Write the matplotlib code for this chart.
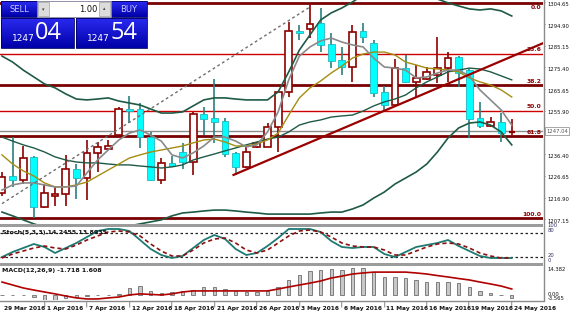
import matplotlib
matplotlib.use("Agg")
import matplotlib.pyplot as plt
from matplotlib.patches import Rectangle
from matplotlib.lines import Line2D
from matplotlib.colors import LinearSegmentedColormap
import numpy as np

# ---------------- data ----------------
opens  = [1219.3,1226.9,1225.1,1235.5,1213.0,1217.9,1218.8,1230.1,1226.0,1237.3,1239.0,1245.3,1257.0,1257.0,1244.4,1225.1,1232.8,1237.7,1233.2,1254.8,
          1253.0,1251.6,1237.3,1231.0,1240.0,1240.0,1248.9,1264.7,1292.1,1293.0,1295.7,1286.2,1279.0,1275.9,1292.1,1286.7,1264.7,1258.8,1275.4,1269.2,
          1270.5,1272.3,1275.4,1280.4,1274.5,1253.0,1249.4,1251.2,1246.7]
highs  = [1228.7,1244.4,1240.4,1235.9,1223.3,1222.0,1236.4,1232.3,1243.1,1242.2,1243.1,1257.9,1262.9,1259.7,1246.7,1235.0,1235.9,1241.8,1255.7,1257.9,
          1270.5,1253.0,1237.7,1240.0,1242.2,1250.7,1264.7,1296.1,1294.8,1304.2,1302.4,1291.2,1284.9,1294.8,1295.7,1288.0,1267.4,1279.5,1281.3,1276.8,
          1275.9,1289.4,1282.6,1280.8,1275.0,1260.2,1253.4,1255.2,1252.5]
lows   = [1217.9,1222.0,1223.3,1208.0,1212.5,1213.4,1213.4,1216.6,1216.1,1228.7,1238.6,1244.4,1250.7,1239.5,1224.5,1223.3,1231.0,1230.1,1227.4,1245.3,
          1241.8,1235.5,1227.4,1230.5,1239.5,1240.0,1237.7,1262.4,1288.0,1288.9,1282.6,1275.4,1272.3,1269.2,1286.7,1262.4,1256.6,1258.4,1268.7,1262.4,
          1270.1,1268.7,1269.2,1266.9,1244.0,1248.5,1248.9,1242.2,1245.3]
closes = [1226.5,1225.1,1235.0,1213.0,1219.3,1218.8,1230.1,1226.0,1237.3,1240.0,1240.4,1257.0,1256.1,1244.4,1225.1,1232.8,1231.4,1233.2,1254.8,1252.5,
          1251.2,1236.8,1231.0,1237.7,1241.8,1248.9,1264.7,1292.1,1291.2,1295.2,1285.8,1278.6,1275.9,1291.6,1289.4,1264.2,1258.8,1275.4,1269.2,1271.0,
          1273.7,1275.4,1279.9,1273.2,1252.5,1249.4,1251.2,1246.2,1247.0]

bb_upper = [1280.8,1278.1,1274.5,1271.4,1268.3,1266.5,1263.8,1261.5,1261.1,1261.5,1262.0,1260.6,1259.7,1258.8,1257.0,1255.2,1255.2,1255.7,1258.4,1261.1,
            1262.0,1262.0,1261.5,1261.1,1261.1,1261.1,1264.7,1273.7,1283.5,1290.3,1297.0,1300.2,1302.4,1305.1,1308.2,1310.5,1312.3,1312.7,1311.8,1310.0,
            1308.7,1306.4,1304.7,1303.3,1302.0,1301.5,1302.0,1301.1,1298.8]
bb_mid   = [1244.4,1242.6,1240.9,1239.5,1237.7,1235.5,1234.1,1233.2,1232.8,1232.8,1232.3,1231.9,1231.9,1231.4,1231.0,1230.5,1231.0,1231.9,1234.1,1235.5,
            1236.8,1238.2,1239.5,1240.9,1242.2,1243.5,1244.4,1246.7,1249.8,1251.2,1252.1,1253.4,1253.9,1254.3,1256.1,1258.4,1260.2,1261.5,1263.3,1266.5,
            1269.2,1271.4,1273.7,1274.5,1275.4,1275.0,1273.7,1271.9,1270.1]
bb_lower = [1210.7,1209.0,1207.2,1205.4,1204.0,1203.1,1202.7,1202.7,1202.7,1203.1,1203.6,1204.0,1204.5,1205.4,1206.3,1207.2,1209.0,1210.3,1210.7,1211.2,
            1211.6,1211.6,1211.2,1210.7,1210.3,1209.8,1209.8,1209.8,1209.8,1209.8,1210.3,1210.7,1210.7,1212.1,1213.9,1217.0,1219.7,1223.3,1226.0,1228.7,
            1232.3,1237.7,1244.0,1248.5,1250.7,1251.2,1249.8,1246.7,1240.9]
ma_fast  = [1220.6,1222.9,1223.8,1223.8,1222.9,1222.0,1222.0,1222.4,1228.3,1234.1,1238.6,1243.1,1246.2,1247.6,1245.3,1242.6,1236.4,1235.0,1237.3,1240.4,
            1244.4,1244.4,1242.6,1240.0,1240.9,1246.7,1255.7,1270.1,1280.8,1284.9,1287.6,1288.9,1287.1,1285.8,1284.9,1279.9,1275.9,1275.4,1274.5,1271.0,
            1271.4,1273.2,1274.5,1274.5,1271.9,1265.6,1261.1,1256.6,1249.8]
ma_slow  = [1236.4,1232.3,1229.2,1226.9,1223.8,1222.0,1222.0,1222.9,1224.2,1226.9,1229.6,1232.3,1235.0,1236.4,1237.7,1238.6,1239.5,1240.4,1241.8,1243.1,
            1243.5,1242.2,1240.4,1240.4,1241.3,1243.1,1246.2,1254.3,1262.0,1266.5,1269.6,1273.2,1276.3,1279.9,1281.7,1282.6,1282.6,1281.3,1278.1,1276.8,
            1275.4,1275.0,1274.5,1273.7,1271.0,1269.2,1267.8,1265.6,1262.4]

stoch_k = [20,32.5,42.5,52.5,45,30,42.5,55,70,85,90,90,85,62.5,40,25,17.5,22.5,42.5,62.5,75,65,40,25,30,47.5,67.5,90,90,90,82.5,60,45,42.5,45,45,
           27.5,20,32.5,45,50,55,62.5,47.5,35,22.5,17.5,17.5,17.5]
stoch_d = [17.5,27.5,35,42.5,47.5,42.5,40,50,62.5,72.5,82.5,85,82.5,72.5,52.5,35,22.5,22.5,37.5,55,65,67.5,55,37.5,30,37.5,55,72.5,85,87.5,82.5,70,
           55,47.5,45,45,37.5,25,25,35,45,52.5,55,52.5,42.5,30,22.5,17.5,17.5]

macd_main = [0.5,0.3,0.3,-1.0,-2.5,-2.8,-1.5,-1.0,-0.5,0.3,0.5,1.0,4.5,5.5,2.5,1.5,2.0,2.5,3.0,4.6,4.6,3.6,2.5,2.0,2.0,2.5,4.9,8.9,11.7,14.0,14.6,
             15.1,14.6,15.7,15.7,13.4,10.6,10.6,10.0,8.9,7.7,7.7,7.7,7.1,4.9,2.6,1.4,0.3,-1.7]
macd_signal = [7.7,6.0,4.3,3.1,2.0,0.9,-0.3,-1.4,-2.0,-2.0,-1.4,-0.9,0.3,0.9,0.6,0.3,0.9,2.0,2.6,2.6,2.6,2.6,2.6,2.6,2.6,2.6,3.7,4.9,6.0,7.1,8.3,
               10.0,11.1,12.3,12.9,13.4,13.4,13.4,13.4,12.9,12.3,11.4,10.6,9.7,8.9,7.7,6.6,5.4,3.7]

price_ticks = [1304.65,1294.90,1285.15,1275.40,1265.65,1255.90,1236.40,1226.65,1216.90,1207.15]
current_price = 1247.04
fib_high, fib_low = 1304.6, 1208.0
fib_levels = [0.0, 23.6, 38.2, 50.0, 61.8, 100.0]
dash_line_idx, dash_line_price = [0, 29], [1214.5, 1302.85]
trend_idx, trend_price = [21.8, 51.0], [1227.4, 1286.7]

date_idx = [0, 4, 8, 12, 16, 20, 24, 28, 32, 36, 40, 44, 48]
date_labels = ["29 Mar 2016", "1 Apr 2016", "7 Apr 2016", "12 Apr 2016", "18 Apr 2016", "21 Apr 2016",
               "26 Apr 2016", "3 May 2016", "6 May 2016", "11 May 2016", "16 May 2016", "19 May 2016", "24 May 2016"]

# ---------------- figure ----------------
W, H = 572, 315
fig = plt.figure(figsize=(W/100, H/100), dpi=100)
fig.patch.set_facecolor("white")

def add_px_axes(x0, y0, x1, y1, **kw):
    return fig.add_axes([x0/W, 1 - y1/H, (x1-x0)/W, (y1-y0)/H], **kw)

n = len(closes)
idx = np.arange(n)
X0, X1 = -2/10.62, (543-2)/10.62

ax = add_px_axes(0, 0, 543, 224)
ax.set_xlim(X0, X1)
ax.set_ylim(1305.99 - 0.4493*224, 1305.99)
for s in ax.spines.values():
    s.set_visible(False)
ax.set_xticks([]); ax.set_yticks([])

# fibonacci levels
for lv in fib_levels:
    p = fib_high - (fib_high - fib_low) * lv / 100
    thick = lv in (0.0, 38.2, 61.8, 100.0)
    ax.axhline(p, color="#7a0000" if thick else "#cc0000", lw=2.0 if thick else 1.0, zorder=1)
    if lv == 0.0:
        ax.text(X1 - 0.15, p - 0.7, f"{lv:.1f}", ha="right", va="top", fontsize=4.3,
                color="#8b0000", fontweight="bold", zorder=6)
    else:
        ax.text(X1 - 0.15, p + 0.6, f"{lv:.1f}", ha="right", va="bottom", fontsize=4.3,
                color="#8b0000", fontweight="bold", zorder=6)

ax.axhline(current_price, color="#8c8c8c", lw=1.0, zorder=1)

# candles
for i in range(n):
    o, h, l, c = opens[i], highs[i], lows[i], closes[i]
    bull = c >= o
    wick_col = "#8b0000" if bull else "#2a8080"
    ax.vlines(i, l, h, color=wick_col, lw=1.2, zorder=3)
    if abs(c - o) < 0.7:
        ax.hlines((o+c)/2, i-0.3, i+0.3, color="#8b0000", lw=1.6, zorder=4)
    elif bull:
        ax.bar(i, c-o, bottom=o, width=0.64, facecolor="white", edgecolor="#8b0000", lw=1.2, zorder=4)
    else:
        ax.bar(i, o-c, bottom=c, width=0.64, facecolor="#00ffff", edgecolor="#22b8c0", lw=0.6, zorder=4)

# indicators
ax.plot(idx, bb_upper, color="#1f5a45", lw=1.2, zorder=5)
ax.plot(idx, bb_mid, color="#1f5a45", lw=1.0, zorder=5)
ax.plot(idx, bb_lower, color="#1f5a45", lw=1.2, zorder=5)
ax.plot(idx, ma_slow, color="#a38d10", lw=1.0, zorder=5)
ax.plot(idx, ma_fast, color="#8a8a8a", lw=1.2, zorder=5)
ax.plot(dash_line_idx, dash_line_price, color="#6e6e6e", lw=1.0, ls=(0, (2, 2)), zorder=5)
ax.plot(trend_idx, trend_price, color="#9a0000", lw=1.6, zorder=5)

# price axis labels
ytr = ax.get_yaxis_transform()
for p in price_ticks:
    ax.text(1.002, p, "-", transform=ytr, fontsize=3.6, va="center", ha="left", clip_on=False)
    ax.text(1.008, p - 0.6, f"{p:.2f}", transform=ytr, fontsize=3.8, va="center",
            ha="left", clip_on=False, color="#111111")
ax.text(1.006, current_price, "1247.04", transform=ytr, fontsize=3.8,
        va="center", ha="left", color="#555555", clip_on=False,
        bbox=dict(boxstyle="square,pad=0.25", fc="white", ec="#999999", lw=0.6))

# ---------------- stochastic ----------------
axs = add_px_axes(0, 227, 543, 263)
axs.set_xlim(X0, X1)
axs.set_ylim(5, 95)
for s in axs.spines.values():
    s.set_visible(False)
axs.set_xticks([]); axs.set_yticks([])
axs.axhline(80, color="#222222", lw=0.9, ls=(0, (2, 2)))
axs.axhline(20, color="#222222", lw=0.9, ls=(0, (2, 2)))
axs.plot(idx, stoch_k, color="#1e7a72", lw=1.3)
axs.plot(idx, stoch_d, color="#8b1010", lw=1.2, ls=(0, (2.5, 1.8)))
axs.text(0.004, 0.93, "Stoch(5,3,3) 14.2455 13.8935", transform=axs.transAxes, fontsize=4.5,
         va="top", ha="left", color="#111111", fontweight="semibold")
for v, t in [(98, "100"), (86, "80"), (24, "20"), (12, "0")]:
    axs.text(1.008, v, t, transform=axs.get_yaxis_transform(), fontsize=3.8, va="center",
             ha="left", clip_on=False, color="#333366")

# ---------------- MACD ----------------
axm = add_px_axes(0, 266, 543, 300)
axm.set_xlim(X0, X1)
axm.set_ylim(-2.6, 16.9)
for s in axm.spines.values():
    s.set_visible(False)
axm.set_xticks([]); axm.set_yticks([])
axm.bar(idx, macd_main, width=0.32, color="#c8c8c8", edgecolor="#555555", lw=0.5)
axm.plot(idx, macd_signal, color="#b00000", lw=1.2)
axm.text(0.004, 0.93, "MACD(12,26,9) -1.718 1.608", transform=axm.transAxes, fontsize=4.5,
         va="top", ha="left", color="#111111", fontweight="semibold")
for v, t in [(14.9, "14.382"), (0.8, "0.00"), (-1.9, "-3.565")]:
    axm.text(1.008, v, t, transform=axm.get_yaxis_transform(), fontsize=3.8, va="center",
             ha="left", clip_on=False, color="#111111")

# date labels
xtr = axm.get_xaxis_transform()
for i, lab in zip(date_idx, date_labels):
    if i > 0:
        axm.text(i - 0.05, -0.12, "|", transform=xtr, fontsize=3.6,
                 ha="center", va="center", clip_on=False)
    axm.text(i + 0.2, -0.24, lab, transform=xtr, fontsize=4.2,
             ha="left", va="center", clip_on=False, color="#111111", fontweight="semibold")

# separators
for (y0, y1) in [(224, 227), (263, 266)]:
    fig.add_artist(Rectangle((0, 1 - y1/H), 543/W, (y1-y0)/H, transform=fig.transFigure,
                             facecolor="#9c9c9c", edgecolor="none"))
fig.add_artist(Line2D([543.5/W, 543.5/W], [1 - 300/H, 1], transform=fig.transFigure,
                      color="#8a8a8a", lw=1.0))
fig.add_artist(Line2D([0, 543.5/W], [1 - 300.5/H, 1 - 300.5/H], transform=fig.transFigure,
                      color="#8a8a8a", lw=1.0))

# ---------------- trade widget ----------------
axw = add_px_axes(0, 0, 148, 49)
axw.set_xlim(0, 148); axw.set_ylim(49, 0)
axw.axis("off")
grad = np.linspace(0, 1, 50).reshape(-1, 1)
cm = LinearSegmentedColormap.from_list("b", ["#2a2af0", "#0000a8"])
def blue_box(x0, y0, x1, y1):
    axw.imshow(grad, cmap=cm, extent=(x0, x1, y1, y0), aspect="auto", zorder=1)
    axw.add_patch(Rectangle((x0, y0), x1-x0, y1-y0, fill=False, ec="#000060", lw=0.6, zorder=2))
blue_box(1, 1, 37, 17)
blue_box(111, 1, 147, 17)
blue_box(1, 18, 74, 48)
blue_box(76, 18, 147, 48)
axw.add_patch(Rectangle((37, 1), 74, 16, fc="white", ec="#8080a0", lw=0.6, zorder=2))
axw.add_patch(Rectangle((38, 2), 11, 14, fc="#dcdcdc", ec="#a0a0a0", lw=0.5, zorder=3))
axw.add_patch(Rectangle((99, 2), 11, 14, fc="#dcdcdc", ec="#a0a0a0", lw=0.5, zorder=3))
axw.text(43.5, 9.5, "▾", fontsize=3.5, ha="center", va="center", color="#404040", zorder=4)
axw.text(104.5, 8.5, "▴", fontsize=3.5, ha="center", va="center", color="#404040", zorder=4)
axw.text(19, 9, "SELL", fontsize=6, ha="center", va="center", color="#c8c8ff", zorder=4)
axw.text(129, 9, "BUY", fontsize=6, ha="center", va="center", color="#c8c8ff", zorder=4)
axw.text(97, 9, "1.00", fontsize=6, ha="right", va="center", color="#111111", zorder=4)
axw.text(23, 38.5, "1247", fontsize=6.5, ha="center", va="center", color="white", zorder=4)
axw.text(35, 33, "04", fontsize=17, ha="left", va="center", color="white", zorder=4,
         family="Open Sans")
axw.text(98, 38.5, "1247", fontsize=6.5, ha="center", va="center", color="white", zorder=4)
axw.text(110, 33, "54", fontsize=17, ha="left", va="center", color="white", zorder=4,
         family="Open Sans")

fig.savefig("out.png", dpi=100)
